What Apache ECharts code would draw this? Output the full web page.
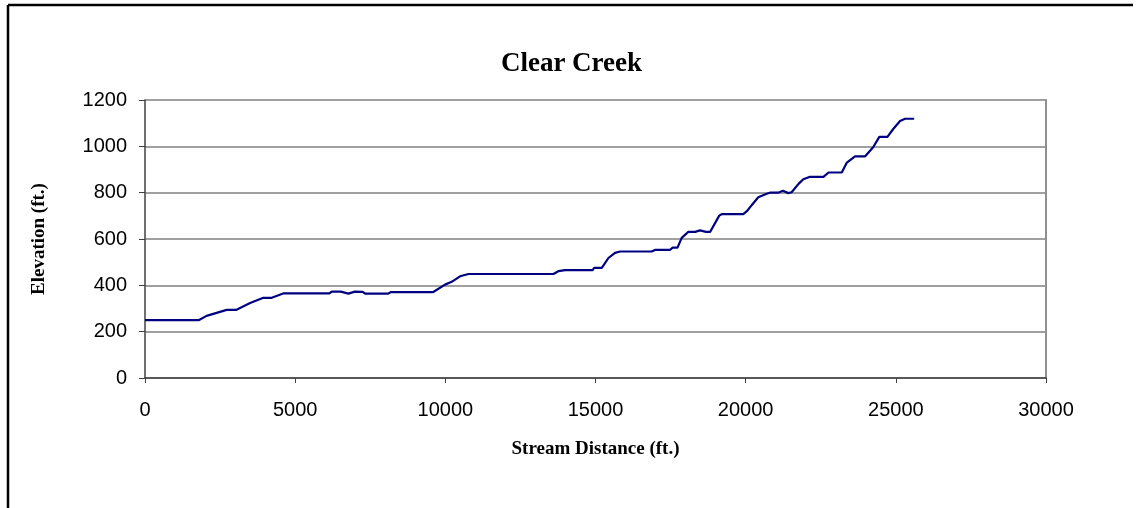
<!DOCTYPE html>
<html>
<head>
<meta charset="utf-8">
<script src="https://cdn.jsdelivr.net/npm/echarts@6/dist/echarts.min.js"></script>
<style>
  html, body { margin: 0; padding: 0; background: #fff; }
  #chart { width: 1143px; height: 508px; }
</style>
</head>
<body>
<div id="chart"></div>
<script>
// 河道纵剖面数据 (ft.)
const distances = [
    0, 1800, 2050, 2720, 3030, 3500, 3550, 3940, 4220, 4600,
    6140, 6220, 6520, 6770, 6990, 7250, 7330, 8100, 8180, 9600,
    9990, 10210, 10490, 10770, 13600, 13760, 13990, 14910, 14950, 15210,
    15430, 15650, 15820, 16870, 16980, 17480, 17570, 17730, 17870, 18090,
    18320, 18370, 18480, 18680, 18820, 19120, 19200, 19920, 20040, 20200,
    20420, 20700, 20810, 21080, 21140, 21240, 21420, 21530, 21760, 21920,
    22120, 22590, 22760, 23200, 23370, 23640, 23980, 24120, 24250, 24450,
    24720, 24920, 25140, 25310, 25610
];
const elevations = [
    250, 250, 268, 294, 294, 324, 328, 346, 346, 365,
    365, 373, 373, 364, 373, 372, 364, 364, 371, 371,
    403, 415, 439, 449, 449, 461, 466, 466, 475, 475,
    518, 540, 546, 546, 553, 553, 563, 563, 605, 631,
    631, 639, 637, 631, 631, 701, 707, 707, 720, 746,
    780, 795, 800, 800, 808, 808, 798, 802, 838, 858,
    868, 868, 887, 887, 930, 957, 957, 978, 997, 1041,
    1041, 1076, 1109, 1119, 1119
];

const chart = echarts.init(document.getElementById('chart'));

const tickFont = {
    fontFamily: '"Liberation Sans", Arial, sans-serif',
    fontSize: 20,
    color: '#000'
};

chart.setOption({
    backgroundColor: '#fff',
    animation: false,
    title: {
        text: 'Clear Creek',
        left: 'center',
        top: 46,
        textStyle: {
            fontFamily: '"Liberation Serif", serif',
            fontWeight: 'bold',
            fontSize: 27,
            color: '#000'
        }
    },
    grid: {
        left: 145,
        right: 97,
        top: 100,
        bottom: 130
    },
    xAxis: {
        type: 'value',
        min: 0,
        max: 30000,
        interval: 5000,
        name: 'Stream Distance (ft.)',
        nameLocation: 'middle',
        nameGap: 62,
        nameTextStyle: {
            fontFamily: '"Liberation Serif", serif',
            fontWeight: 'bold',
            fontSize: 19,
            color: '#000'
        },
        axisLine: { lineStyle: { color: '#404040', width: 1.5 } },
        axisTick: { show: true, length: 5, lineStyle: { color: '#404040' } },
        axisLabel: {
            ...tickFont,
            margin: 22,
            formatter: v => String(v)
        },
        splitLine: { show: false }
    },
    yAxis: [{
        type: 'value',
        min: 0,
        max: 1200,
        interval: 200,
        name: 'Elevation (ft.)',
        nameLocation: 'middle',
        nameGap: 96,
        nameTextStyle: {
            fontFamily: '"Liberation Serif", serif',
            fontWeight: 'bold',
            fontSize: 19,
            color: '#000'
        },
        axisLine: { show: true, lineStyle: { color: '#404040', width: 1.5 } },
        axisTick: { show: true, length: 6, lineStyle: { color: '#404040' } },
        axisLabel: {
            ...tickFont,
            margin: 18,
            formatter: v => String(v)
        },
        splitLine: { show: true, lineStyle: { color: '#808080', width: 1.5 } }
    }, {
        type: 'value',
        position: 'right',
        min: 0,
        max: 1200,
        interval: 200,
        axisLine: { show: true, lineStyle: { color: '#909090', width: 2 } },
        axisTick: { show: false },
        axisLabel: { show: false },
        splitLine: { show: false }
    }],
    series: [{
        type: 'line',
        data: distances.map((d, i) => [d, elevations[i]]),
        showSymbol: false,
        lineStyle: { color: '#000080', width: 2.2 },
        smooth: false
    }],
    graphic: [{
        type: 'line',
        shape: { x1: 8, y1: 5, x2: 1133, y2: 5 },
        style: { stroke: '#000', lineWidth: 2.5 }
    }, {
        type: 'line',
        shape: { x1: 8, y1: 5, x2: 8, y2: 508 },
        style: { stroke: '#000', lineWidth: 2.5 }
    }]
});
</script>
</body>
</html>
